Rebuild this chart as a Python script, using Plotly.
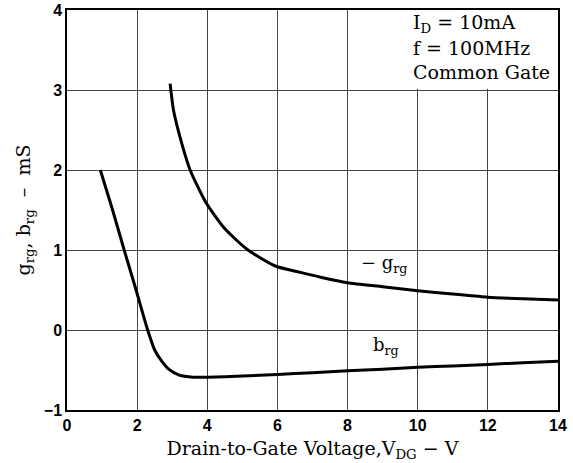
import plotly.graph_objects as go

# b_rg curve (mS) vs V_DG (V)
b_x = [0.95, 1.3, 1.63, 1.97, 2.3, 2.5, 2.7, 2.9, 3.2, 3.6, 4.0, 5.0, 6.0, 7.0, 8.0, 9.0, 10.0, 11.0, 12.0, 13.0, 14.0]
b_y = [2.0, 1.5, 1.0, 0.5, 0.0, -0.25, -0.39, -0.49, -0.565, -0.59, -0.59, -0.575, -0.555, -0.535, -0.51, -0.49, -0.465, -0.45, -0.43, -0.41, -0.39]

# -g_rg curve (mS) vs V_DG (V)
g_x = [2.94, 3.04, 3.28, 3.51, 3.94, 4.47, 5.13, 5.94, 6.66, 7.23, 8.0, 9.0, 10.0, 11.0, 12.0, 13.0, 14.0]
g_y = [3.08, 2.74, 2.32, 2.0, 1.61, 1.28, 1.01, 0.8, 0.72, 0.66, 0.59, 0.54, 0.49, 0.45, 0.41, 0.39, 0.375]

x_ticks = [0, 2, 4, 6, 8, 10, 12, 14]
y_ticks = [-1, 0, 1, 2, 3, 4]

serif = "DejaVu Serif"
sans = "Liberation Sans"

fig = go.Figure()
fig.add_trace(go.Scatter(x=g_x, y=g_y, mode="lines", line=dict(color="black", width=3, shape="spline", smoothing=0.6), showlegend=False))
fig.add_trace(go.Scatter(x=b_x, y=b_y, mode="lines", line=dict(color="black", width=3, shape="spline", smoothing=0.6), showlegend=False))

# white box behind condition text
fig.add_shape(type="rect", xref="x", yref="y", x0=8.95, x1=14, y0=3.015, y1=4,
              fillcolor="white", line=dict(width=0), layer="between")

cond = ["I<sub>D</sub> = 10mA", "f = 100MHz", "Common Gate"]
cond_y = [3.83, 3.53, 3.23]
for t, yy in zip(cond, cond_y):
    fig.add_annotation(x=9.8, y=yy, xref="x", yref="y", text=t, showarrow=False,
                       xanchor="left", yanchor="middle", font=dict(family=serif, size=19, color="black"))

fig.add_annotation(x=9.05, y=0.82, text="− g<sub>rg</sub>", showarrow=False,
                   font=dict(family=serif, size=18, color="black"))
fig.add_annotation(x=9.1, y=-0.2, text="b<sub>rg</sub>", showarrow=False,
                   font=dict(family=serif, size=18, color="black"))

fig.update_layout(
    width=573, height=463,
    margin=dict(l=67, r=15, t=10, b=53),
    plot_bgcolor="white", paper_bgcolor="white",
    xaxis=dict(range=[0, 14], tickvals=x_ticks, showgrid=True, gridcolor="#444", gridwidth=1,
               showline=True, linecolor="black", linewidth=1.5, mirror=True, zeroline=False,
               automargin=False,
               ticks="", tickfont=dict(family=sans, size=16, color="black", weight="bold"),
               title=dict(text="Drain-to-Gate Voltage,V<sub>DG</sub> − V", standoff=9,
                          font=dict(family=serif, size=19, color="black"))),
    yaxis=dict(range=[-1, 4], tickvals=y_ticks, showgrid=True, gridcolor="#444", gridwidth=1,
               showline=True, linecolor="black", linewidth=1.5, mirror=True, zeroline=False,
               automargin=False,
               ticks="", tickfont=dict(family=sans, size=16, color="black", weight="bold"),
               title=dict(text="g<sub>rg</sub>, b<sub>rg</sub>  –  mS", standoff=8,
                          font=dict(family=serif, size=19, color="black"))),
)

fig.write_html("out.html")
